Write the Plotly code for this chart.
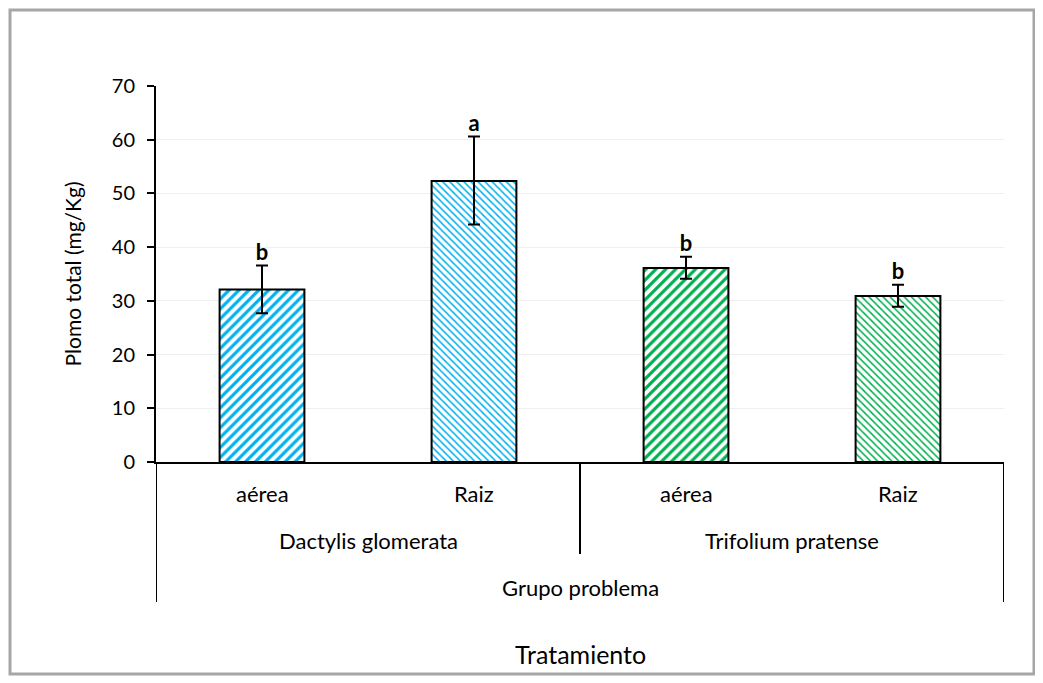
import plotly.graph_objects as go

parts = ["aérea", "Raiz", "aérea", "Raiz"]
species = ["Dactylis glomerata", "Trifolium pratense"]
group_label = "Grupo problema"
values = [32.1, 52.3, 36.1, 30.9]
err_plus = [4.5, 8.3, 2.1, 2.1]
err_minus = [4.4, 8.1, 2.0, 2.0]
letters = ["b", "a", "b", "b"]
yticks = [0, 10, 20, 30, 40, 50, 60, 70]

fg_colors = ["#00B0F0", "#00B0F0", "#00B050", "#00B050"]
shapes_pat = ["/", "\\", "/", "\\"]
sizes_pat = [7, 5, 7, 5]
solid_pat = [0.45, 0.3, 0.45, 0.3]

FONT = "Lato, Carlito, Calibri, sans-serif"
xs = list(range(len(values)))

# page body has an 8px margin; work in screen pixels and convert
OFF = 8
W, H = 1043 - OFF, 683 - OFF
sx_left, sx_right, sy_top, sy_bottom = 156, 1004, 86, 462
L = sx_left - OFF
R = W - (sx_right - OFF)
T = sy_top - OFF
B = H - (sy_bottom - OFF)
ph = sy_bottom - sy_top
pw = sx_right - sx_left

fig = go.Figure()
fig.add_trace(go.Bar(
    x=xs, y=values, width=0.4,
    marker=dict(
        color="white",
        line=dict(color="black", width=2),
        pattern=dict(shape=shapes_pat, fgcolor=fg_colors, bgcolor="white",
                     size=sizes_pat, solidity=solid_pat, fillmode="replace"),
    ),
    error_y=dict(type="data", symmetric=False, array=err_plus, arrayminus=err_minus,
                 color="black", thickness=2, width=6),
    showlegend=False,
))
fig.add_trace(go.Scatter(
    x=xs, y=[v + e for v, e in zip(values, err_plus)],
    mode="text", text=[f"<b>{t}</b>" for t in letters], textposition="top center",
    textfont=dict(family=FONT, size=22, color="black"), showlegend=False,
))


def shift(py):
    return -(py - sy_bottom)


annotations = []
for i, p in enumerate(parts):
    annotations.append(dict(x=i, y=0, xref="x", yref="paper", yshift=shift(493),
                            text=p, showarrow=False, yanchor="middle",
                            font=dict(family=FONT, size=22, color="black")))
for j, s in enumerate(species):
    annotations.append(dict(x=2 * j + 0.5, y=0, xref="x", yref="paper", yshift=shift(540),
                            text=s, showarrow=False, yanchor="middle",
                            font=dict(family=FONT, size=22, color="black")))
annotations.append(dict(x=1.5, y=0, xref="x", yref="paper", yshift=shift(587),
                        text=group_label, showarrow=False, yanchor="middle",
                        font=dict(family=FONT, size=22, color="black")))
annotations.append(dict(x=1.5, y=0, xref="x", yref="paper", yshift=shift(654),
                        text="Tratamiento", showarrow=False, yanchor="middle",
                        font=dict(family=FONT, size=25, color="black")))

shapes = []
for xv, bottom in [(-0.5, 602), (1.5, 554), (3.5, 602)]:
    shapes.append(dict(type="line", xref="x", yref="paper", x0=xv, x1=xv,
                       y0=0, y1=-(bottom - sy_bottom) / ph,
                       line=dict(color="black", width=2)))
# outer border (screen coords 10..1034, 10..674)
shapes.append(dict(type="rect", xref="paper", yref="paper",
                   x0=(10 - sx_left) / pw, x1=(1034 - sx_left) / pw,
                   y0=1 + (sy_top - 10) / ph, y1=-(674 - sy_bottom) / ph,
                   line=dict(color="#A6A6A6", width=3), fillcolor="rgba(0,0,0,0)",
                   layer="below"))

fig.update_layout(
    width=W, height=H,
    margin=dict(l=L, r=R, t=T, b=B),
    paper_bgcolor="white", plot_bgcolor="white",
    font=dict(family=FONT, size=20, color="black"),
    annotations=annotations, shapes=shapes,
    bargap=0.6,
)
fig.update_xaxes(range=[-0.5, 3.5], showticklabels=False, ticks="", showgrid=False,
                 showline=True, linecolor="black", linewidth=2, zeroline=False)
fig.update_yaxes(range=[0, 70], tickvals=yticks, showgrid=True, gridcolor="#EFEFEF",
                 gridwidth=1, showline=True, linecolor="black", linewidth=2,
                 ticks="outside", ticklen=7, tickwidth=2, tickcolor="black",
                 zeroline=False, ticklabelstandoff=8,
                 tickfont=dict(family=FONT, size=20),
                 title=dict(text="Plomo total (mg/Kg)", font=dict(family=FONT, size=21),
                            standoff=24))

fig.write_html("out.html")
